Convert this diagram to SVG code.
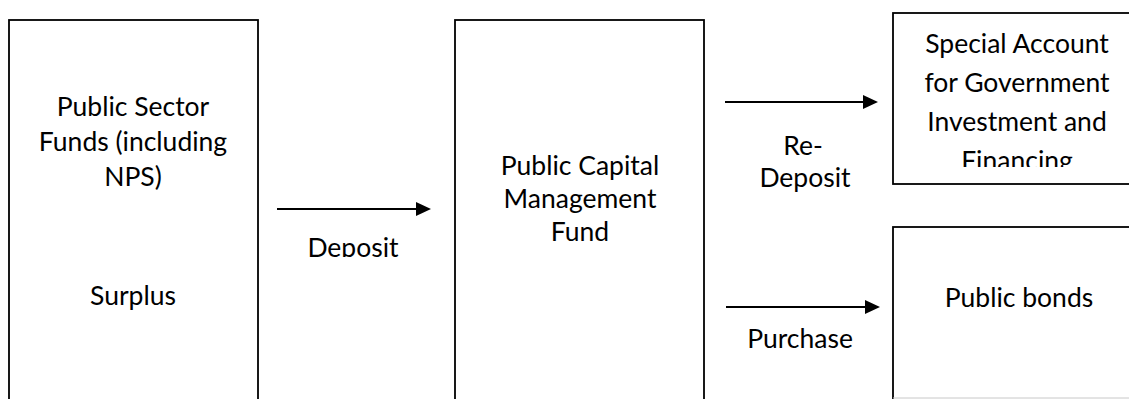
<svg xmlns="http://www.w3.org/2000/svg" width="1129" height="399" viewBox="0 0 1129 399">
<style>
.box{fill:#fff;stroke:#000;stroke-width:1.8}
.t{font-family:Lato,"Liberation Sans",sans-serif;font-size:26.5px;fill:#000;text-anchor:middle}
.c{stroke:#000;stroke-width:2;fill:none}
</style>
<defs>
<clipPath id="clipDep"><rect x="280" y="220" width="160" height="37"/></clipPath>
<clipPath id="clipSA"><rect x="893" y="13" width="236" height="154"/></clipPath>
</defs>
<rect width="1129" height="399" fill="#fff"/>
<g id="node-psf">
<rect class="box" x="9" y="20" width="249" height="400"/>
<text class="t" x="133" y="116">Public Sector</text>
<text class="t" x="133" y="151">Funds (including</text>
<text class="t" x="133" y="186">NPS)</text>
<text class="t" x="133" y="305">Surplus</text>
</g>
<g id="node-pcmf">
<rect class="box" x="455" y="20" width="249" height="400"/>
<text class="t" x="580" y="175">Public Capital</text>
<text class="t" x="580" y="208">Management</text>
<text class="t" x="580" y="241">Fund</text>
</g>
<g id="node-special">
<rect class="box" x="893" y="13" width="240" height="171"/>
<g clip-path="url(#clipSA)">
<text class="t" x="1017" y="53">Special Account</text>
<text class="t" x="1017" y="92">for Government</text>
<text class="t" x="1017" y="131">Investment and</text>
<text class="t" x="1017" y="170">Financing</text>
</g>
</g>
<g id="node-bonds">
<rect class="box" x="893" y="227" width="240" height="200"/>
<line x1="893" y1="398" x2="1129" y2="398" stroke="#c8c8c8" stroke-width="1"/>
<text class="t" x="1019" y="307">Public bonds</text>
</g>
<g id="connectors">
<path d="M277,209 L418,209" class="c"/><path d="M416,202 L431,209 L416,216 Z" fill="#000"/>
<path d="M725,102 L865,102" class="c"/><path d="M863,95 L878,102 L863,109 Z" fill="#000"/>
<path d="M726,307 L867,307" class="c"/><path d="M865,300 L880,307 L865,314 Z" fill="#000"/>
<g clip-path="url(#clipDep)"><text class="t" x="353" y="257">Deposit</text></g>
<text class="t" x="803" y="155">Re-</text>
<text class="t" x="805" y="187">Deposit</text>
<text class="t" x="800" y="348">Purchase</text>
</g>
</svg>
